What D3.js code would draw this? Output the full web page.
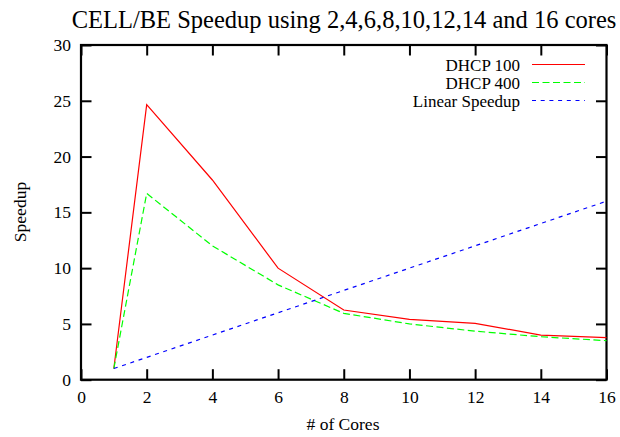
<!DOCTYPE html>
<html>
<head>
<meta charset="utf-8">
<script src="https://cdn.jsdelivr.net/npm/d3@7"></script>
</head>
<body style="margin:0; background:#fff">
<svg id="chart" width="620" height="437"></svg>
<script>
// data
const cores = [1, 2, 4, 6, 8, 10, 12, 14, 16];
const dhcp100 = [1, 24.65, 17.9, 10.0, 6.25, 5.4, 5.05, 4.0, 3.78];
const dhcp400 = [1, 16.7, 12.0, 8.5, 5.95, 5.0, 4.35, 3.85, 3.5];
const linear = [1, 2, 4, 6, 8, 10, 12, 14, 16];
const xTicks = [0, 2, 4, 6, 8, 10, 12, 14, 16];
const yTicks = [0, 5, 10, 15, 20, 25, 30];

const series = [
    {name: "DHCP 100", values: dhcp100, color: "#ff0000", dash: null},
    {name: "DHCP 400", values: dhcp400, color: "#00ff00", dash: "7,3.5"},
    {name: "Linear Speedup", values: linear, color: "#0000ff", dash: "4,4.7"}
];

const font = "'Liberation Serif', 'Times New Roman', Times, serif";

// plot box
const margin = {top: 45, right: 13.5, bottom: 57.3, left: 81};
const width = 620 - margin.left - margin.right,
    height = 437 - margin.top - margin.bottom;

const x = d3.scaleLinear().domain([0, 16]).range([0, width]);
const y = d3.scaleLinear().domain([0, 30]).range([height, 0]);

const svg = d3.select("#chart");
const g = svg.append("g")
    .attr("transform", "translate(" + margin.left + "," + margin.top + ")");

// ticks on all four sides, pointing inwards
const tick = 10.5;
const axisB = g.append("g").attr("transform", "translate(0," + height + ")")
    .call(d3.axisBottom(x).tickValues(xTicks).tickSize(-tick).tickPadding(11));
const axisL = g.append("g")
    .call(d3.axisLeft(y).tickValues(yTicks).tickSize(-tick).tickPadding(10));
const axisT = g.append("g")
    .call(d3.axisTop(x).tickValues(xTicks).tickSize(-tick).tickFormat(""));
const axisR = g.append("g").attr("transform", "translate(" + width + ",0)")
    .call(d3.axisRight(y).tickValues(yTicks).tickSize(-tick).tickFormat(""));

[axisB, axisL, axisT, axisR].forEach(function(a) {
    a.select(".domain").remove();
    a.selectAll(".tick line").attr("stroke", "#000").attr("stroke-width", 2);
    a.selectAll(".tick text")
        .style("font-family", font)
        .style("font-size", "17.5px")
        .attr("fill", "#000");
});

// frame
g.append("rect")
    .attr("width", width).attr("height", height)
    .attr("fill", "none").attr("stroke", "#000").attr("stroke-width", 2.2);

// lines
const line = d3.line()
    .x(function(d, i) { return x(cores[i]); })
    .y(function(d) { return y(d); });

series.forEach(function(s) {
    g.append("path")
        .datum(s.values)
        .attr("d", line)
        .attr("fill", "none")
        .attr("stroke", s.color)
        .attr("stroke-width", 1.2)
        .attr("stroke-dasharray", s.dash);
});

// legend
const legend = svg.append("g");
series.forEach(function(s, i) {
    const ly = 64.5 + i * 18;
    legend.append("text")
        .attr("x", 520).attr("y", ly + 6)
        .attr("text-anchor", "end")
        .style("font-family", font)
        .style("font-size", "17px")
        .text(s.name);
    legend.append("line")
        .attr("x1", 532).attr("x2", 585)
        .attr("y1", ly).attr("y2", ly)
        .attr("stroke", s.color)
        .attr("stroke-width", 1.2)
        .attr("stroke-dasharray", s.dash);
});

// titles
const title = svg.append("text")
    .attr("x", 344).attr("y", 28)
    .attr("text-anchor", "middle")
    .style("font-family", font)
    .style("font-size", "24px")
    .text("CELL/BE Speedup using 2,4,6,8,10,12,14 and 16 cores");
// the reference title runs from about x=72 to x=617
const tw = title.node().getComputedTextLength();
title.style("font-size", (24 * 545 / tw) + "px");

svg.append("text")
    .attr("transform", "translate(26,212) rotate(-90)")
    .attr("text-anchor", "middle")
    .style("font-family", font)
    .style("font-size", "17.5px")
    .text("Speedup");

svg.append("text")
    .attr("x", 343).attr("y", 430)
    .attr("text-anchor", "middle")
    .style("font-family", font)
    .style("font-size", "17.5px")
    .text("# of Cores");
</script>
</body>
</html>
